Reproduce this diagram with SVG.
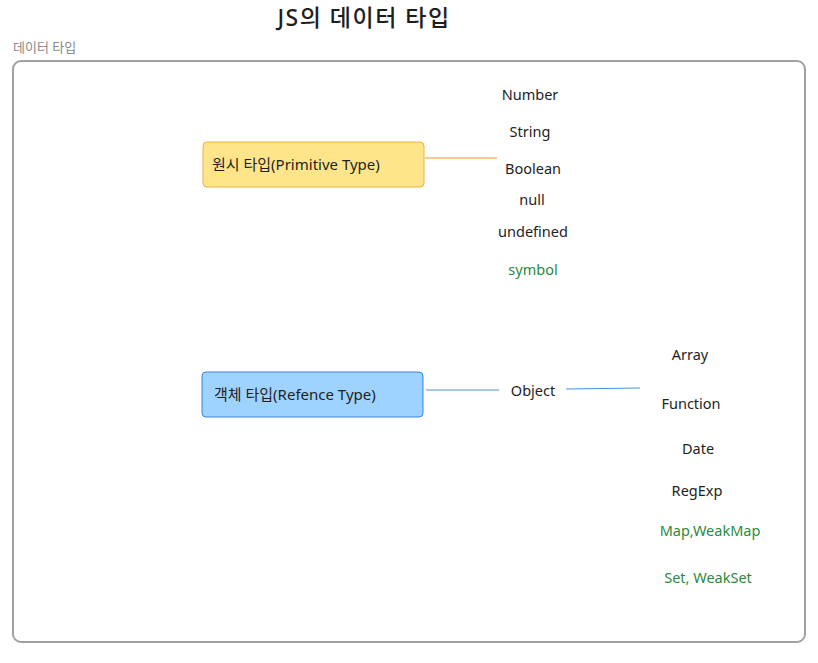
<svg xmlns="http://www.w3.org/2000/svg" width="818" height="663" viewBox="0 0 818 663">
<style>
text{font-family:"Noto Sans","Noto Sans CJK KR",sans-serif;fill:#1e1e1e}
.lbl{font-size:14.5px;text-anchor:middle}
.g{fill:#2b8a3e}
.title{font-size:23px;text-anchor:middle;letter-spacing:1.5px;font-weight:500}
.frame-lbl{font-size:13px;fill:#8a8a8a}
</style>
<rect width="818" height="663" fill="#ffffff"/>
<text class="title" x="364" y="26">JS의 데이터 타입</text>
<g id="frame">
<text class="frame-lbl" x="13" y="52">데이터 타입</text>
<rect x="13" y="61" width="792" height="581" rx="8" fill="none" stroke="#a0a0a0" stroke-width="2"/>
</g>
<g id="connectors">
<line x1="425" y1="158" x2="497" y2="158" stroke="#f5b971" stroke-width="1.5"/>
<line x1="426" y1="390" x2="499" y2="390" stroke="#4a90d9" stroke-width="1.2"/>
<line x1="566" y1="389" x2="640" y2="388" stroke="#4a90d9" stroke-width="1.2"/>
</g>
<g id="primitive">
<rect x="203" y="142" width="221" height="45" rx="4" fill="#ffe58a" stroke="#f0b040" stroke-width="1"/>
<text x="212" y="170" font-size="15">원시 타입(Primitive Type)</text>
</g>
<g id="reference">
<rect x="202" y="372" width="221" height="45" rx="4" fill="#9ed3ff" stroke="#3c84d6" stroke-width="1"/>
<text x="214" y="400" font-size="15">객체 타입(Refence Type)</text>
</g>
<g id="object"><text class="lbl" x="533" y="396">Object</text></g>
<g id="n-number"><text class="lbl" x="530" y="100">Number</text></g>
<g id="n-string"><text class="lbl" x="530" y="137">String</text></g>
<g id="n-boolean"><text class="lbl" x="533" y="174">Boolean</text></g>
<g id="n-null"><text class="lbl" x="532" y="205">null</text></g>
<g id="n-undefined"><text class="lbl" x="533" y="237">undefined</text></g>
<g id="n-symbol"><text class="lbl g" x="533" y="275">symbol</text></g>
<g id="n-array"><text class="lbl" x="690" y="360">Array</text></g>
<g id="n-function"><text class="lbl" x="691" y="409">Function</text></g>
<g id="n-date"><text class="lbl" x="698" y="454">Date</text></g>
<g id="n-regexp"><text class="lbl" x="697" y="496">RegExp</text></g>
<g id="n-map"><text class="lbl g" x="710" y="536">Map,WeakMap</text></g>
<g id="n-set"><text class="lbl g" x="708" y="583">Set, WeakSet</text></g>
</svg>
